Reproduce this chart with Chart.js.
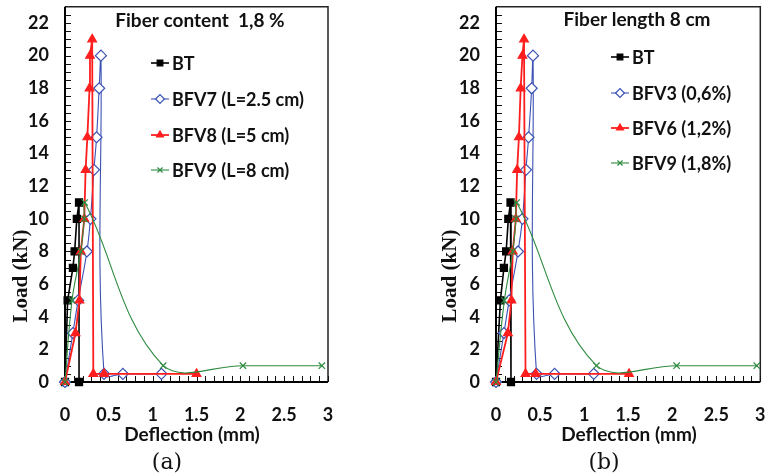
<!DOCTYPE html>
<html>
<head>
<meta charset="utf-8">
<script src="https://cdn.jsdelivr.net/npm/chart.js@4.4.1/dist/chart.umd.min.js"></script>
<style>
  html, body { margin: 0; padding: 0; background: #fff; }
  #wrap { position: relative; width: 767px; height: 476px; overflow: hidden; }
  #wrap canvas { position: absolute; top: 0; }
</style>
</head>
<body>
<div id="wrap">
  <canvas id="chartA" width="340" height="476" style="left:0px"></canvas>
  <canvas id="chartB" width="342" height="476" style="left:425px"></canvas>
</div>
<script>
// (a) fibre content 1,8 % -- deflection (mm) / load (kN)
const defA_BT    = [0, 0.03, 0.09, 0.11, 0.135, 0.16, 0.16];
const loadA_BT   = [0, 5, 7, 8, 10, 11, 0];
const defA_BFV7  = [0, 0.09, 0.15, 0.25, 0.29, 0.33, 0.36, 0.39, 0.41, 0.445, 0.66, 1.1];
const loadA_BFV7 = [0, 3, 5, 8, 10, 13, 15, 18, 20, 0.5, 0.5, 0.5];
const defA_BFV8  = [0, 0.12, 0.165, 0.18, 0.22, 0.235, 0.255, 0.28, 0.285, 0.31, 0.323, 0.445, 1.5];
const loadA_BFV8 = [0, 3, 5, 8, 10, 13, 15, 18, 20, 21, 0.5, 0.5, 0.5];
const defA_BFV9  = [0, 0.08, 0.18, 0.22, 0.225, 1.12, 2.03, 2.93];
const loadA_BFV9 = [0, 5, 8, 10, 11, 1, 1, 1];

// (b) fibre length 8 cm
const defB_BT    = [0, 0.05, 0.09, 0.115, 0.14, 0.165, 0.17];
const loadB_BT   = [0, 5, 7, 8, 10, 11, 0];
const defB_BFV3  = [0, 0.09, 0.15, 0.25, 0.3, 0.34, 0.37, 0.405, 0.42, 0.46, 0.665, 1.11];
const loadB_BFV3 = [0, 3, 5, 8, 10, 13, 15, 18, 20, 0.5, 0.5, 0.5];
const defB_BFV6  = [0, 0.135, 0.175, 0.19, 0.225, 0.24, 0.26, 0.28, 0.3, 0.318, 0.335, 0.45, 1.51];
const loadB_BFV6 = [0, 3, 5, 8, 10, 13, 15, 18, 20, 21, 0.5, 0.5, 0.5];
const defB_BFV9  = [0, 0.095, 0.19, 0.227, 0.235, 1.14, 2.05, 2.96];
const loadB_BFV9 = [0, 5, 8, 10, 11, 1, 1, 1];

const namesA = ['BT', 'BFV7 (L=2.5 cm)', 'BFV8 (L=5 cm)', 'BFV9 (L=8 cm)'];
const namesB = ['BT', 'BFV3 (0,6%)', 'BFV6 (1,2%)', 'BFV9 (1,8%)'];

// axis ranges / tick steps
const xMax = 3, xStep = 0.5, xMinor = 0.1;
const yMax = 23, yStep = 2, yMinor = 0.5;

const SANS = 'Lato, "Open Sans", sans-serif';
const SERIF = '"Liberation Serif", "DejaVu Serif", serif';

// one style per series slot: BT, BFV(short), BFV(mid), BFV9
const seriesStyle = [
  { color: '#000000', width: 1.6, pointStyle: 'rect',     radius: 5,   bg: '#000000', tension: 0 },
  { color: '#3b52b4', width: 1.1, pointStyle: 'rectRot',  radius: 5.5, bg: '#ffffff', tension: 0.4 },
  { color: '#ff1e1e', width: 1.8, pointStyle: 'triangle', radius: 5,   bg: '#ff1e1e', tension: 0 },
  { color: '#2e8b3f', width: 1.1, pointStyle: 'crossRot', radius: 4.5, bg: '#2e8b3f', tension: 0.4 }
];

const pts = (xs, ys) => xs.map((x, i) => ({ x, y: ys[i] }));

function buildDatasets(series, names){
  return series.map(([xs, ys], i) => {
    const s = seriesStyle[i];
    return {
      label: names[i],
      data: pts(xs, ys),
      borderColor: s.color,
      borderWidth: s.width,
      backgroundColor: s.bg,
      pointStyle: s.pointStyle,
      pointRadius: s.radius,
      pointBackgroundColor: s.bg,
      pointBorderColor: s.color,
      pointBorderWidth: 1.2,
      tension: s.tension,
      clip: false,
      order: series.length - i
    };
  });
}

// scales reserve room for their end labels; the plot box here runs edge to edge
const noEdgePad = s => { s.paddingLeft = s.paddingRight = s.paddingTop = s.paddingBottom = 0; };

// box round the plot plus the small inward ticks
const frameTicks = {
  id: 'frameTicks',
  beforeDatasetsDraw(chart){
    const { ctx, chartArea: a, scales: { x, y } } = chart;
    ctx.save();
    ctx.strokeStyle = '#222';
    ctx.lineWidth = 1.5;
    ctx.beginPath();
    ctx.moveTo(a.left, a.top); ctx.lineTo(a.right, a.top); ctx.lineTo(a.right, a.bottom);
    ctx.stroke();
    ctx.lineWidth = 1;
    ctx.strokeStyle = '#111';
    ctx.beginPath();
    for (let v = xMinor; v < xMax + 1e-9; v += xMinor) {
      const px = Math.round(x.getPixelForValue(v)) + 0.5;
      ctx.moveTo(px, a.bottom); ctx.lineTo(px, a.bottom - 6);
    }
    for (let v = yMinor; v < yMax - 1e-9; v += yMinor) {
      const py = Math.round(y.getPixelForValue(v)) + 0.5;
      ctx.moveTo(a.left, py); ctx.lineTo(a.left + 6, py);
    }
    ctx.stroke();
    ctx.lineWidth = 2;
    ctx.strokeStyle = '#000';
    ctx.beginPath();
    ctx.moveTo(a.left, a.top); ctx.lineTo(a.left, a.bottom); ctx.lineTo(a.right, a.bottom);
    ctx.stroke();
    ctx.restore();
  }
};

// title, in-plot legend, axis titles and panel letter
const annotate = {
  id: 'annotate',
  afterDraw(chart, args, o){
    const { ctx } = chart;
    ctx.save();
    ctx.fillStyle = '#111';
    ctx.textBaseline = 'middle';

    ctx.font = `bold 19px ${SANS}`;
    ctx.textAlign = 'center';
    ctx.fillText(o.title, o.titleX, o.titleY);

    chart.data.datasets.forEach((ds, i) => {
      const yy = o.legendRows[i];
      ctx.strokeStyle = ds.borderColor;
      ctx.lineWidth = ds.borderWidth;
      ctx.beginPath();
      ctx.moveTo(o.legendX - 9, yy); ctx.lineTo(o.legendX + 9, yy);
      ctx.stroke();
      ctx.fillStyle = ds.pointBackgroundColor;
      ctx.strokeStyle = ds.pointBorderColor;
      ctx.lineWidth = 1.2;
      Chart.helpers.drawPoint(ctx, { pointStyle: ds.pointStyle, radius: ds.pointRadius * 0.8, rotation: 0, borderWidth: 1.2 }, o.legendX, yy);
      ctx.fillStyle = '#111';
      ctx.textAlign = 'left';
      ctx.font = `bold 18px ${SANS}`;
      ctx.fillText(ds.label, o.legendX + 12, yy + 1);
    });

    ctx.textAlign = 'center';
    ctx.font = `bold 19px ${SANS}`;
    ctx.fillText('Deflection (mm)', o.xTitleX, o.xTitleY);

    ctx.save();
    ctx.translate(o.yTitleX, o.yTitleY);
    ctx.rotate(-Math.PI / 2);
    ctx.font = `bold 21px ${SERIF}`;
    ctx.fillText('Load (kN)', 0, 0);
    ctx.restore();

    ctx.font = '22px "DejaVu Serif", serif';
    ctx.fillText(o.letter, o.letterX, o.letterY);
    ctx.restore();
  }
};

function makeChart(id, series, names, plotLeft, padRight, opts){
  return new Chart(document.getElementById(id), {
    type: 'line',
    data: { datasets: buildDatasets(series, names) },
    options: {
      responsive: false,
      animation: false,
      events: [],
      layout: { padding: { top: 6, right: padRight, left: 0, bottom: 0 } },
      scales: {
        x: {
          type: 'linear', min: 0, max: xMax,
          grid: { display: false, drawTicks: false },
          border: { display: false },
          ticks: {
            stepSize: xStep, padding: 22, color: '#111',
            font: { family: SANS, size: 18, weight: 'bold' },
            callback: v => String(v)
          },
          afterFit: s => { s.height = 94; noEdgePad(s); }
        },
        y: {
          min: 0, max: yMax,
          grid: { display: false, drawTicks: false },
          border: { display: false },
          ticks: {
            stepSize: yStep, includeBounds: false, padding: 16, color: '#111',
            font: { family: SANS, size: 18, weight: 'bold' }
          },
          afterFit: s => { s.width = plotLeft; noEdgePad(s); }
        }
      },
      plugins: {
        legend: { display: false },
        tooltip: { enabled: false },
        annotate: opts
      }
    },
    plugins: [frameTicks, annotate]
  });
}

makeChart('chartA',
  [[defA_BT, loadA_BT], [defA_BFV7, loadA_BFV7], [defA_BFV8, loadA_BFV8], [defA_BFV9, loadA_BFV9]],
  namesA, 65, 12,
  { title: 'Fiber content  1,8 %', titleX: 200, titleY: 21,
    legendX: 160, legendRows: [63, 99, 135, 170],
    xTitleX: 192, xTitleY: 435, yTitleX: 22, yTitleY: 276,
    letter: '(a)', letterX: 167, letterY: 463 });

makeChart('chartB',
  [[defB_BT, loadB_BT], [defB_BFV3, loadB_BFV3], [defB_BFV6, loadB_BFV6], [defB_BFV9, loadB_BFV9]],
  namesB, 71, 4,
  { title: 'Fiber length 8 cm', titleX: 212, titleY: 20,
    legendX: 195, legendRows: [57, 93, 128, 163],
    xTitleX: 204, xTitleY: 435, yTitleX: 26, yTitleY: 276,
    letter: '(b)', letterX: 179, letterY: 463 });
</script>
</body>
</html>
